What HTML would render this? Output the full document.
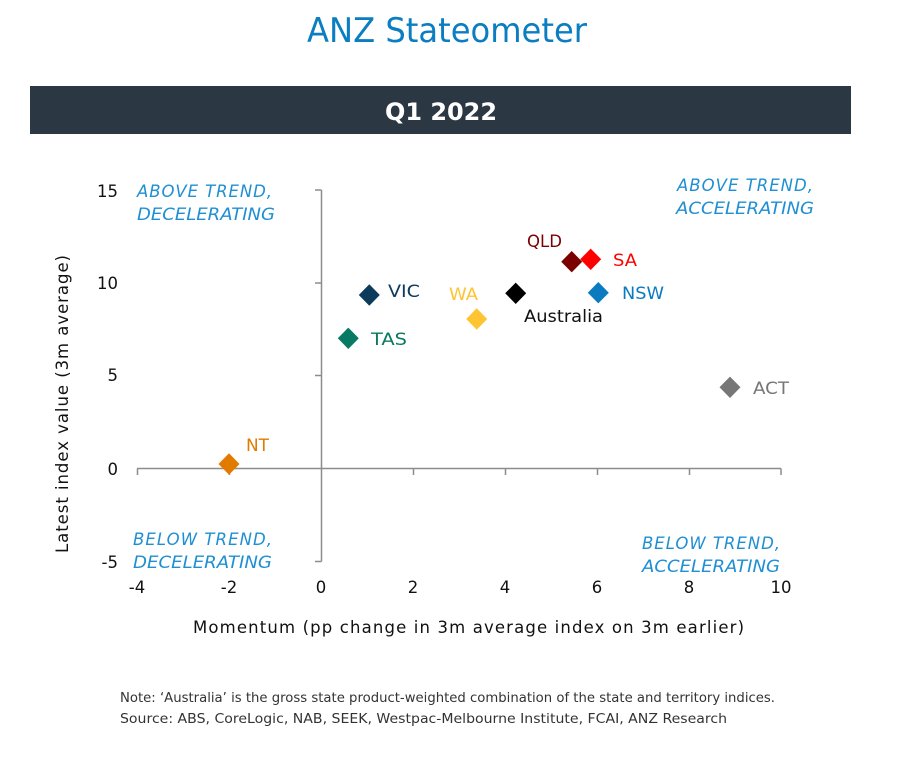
<!DOCTYPE html>
<html><head><meta charset="utf-8"><style>
html,body{margin:0;padding:0;background:#fff;}
svg{display:block;}
text{font-family:"DejaVu Sans","Liberation Sans",sans-serif;}
</style></head><body>
<svg width="908" height="766" viewBox="0 0 908 766" xmlns="http://www.w3.org/2000/svg">
<rect width="908" height="766" fill="#fff"/>
<text x="447" y="42" text-anchor="middle" font-family="Liberation Sans, sans-serif" font-size="34" fill="#0b7dc1" textLength="280" lengthAdjust="spacingAndGlyphs">ANZ Stateometer</text>
<rect x="30" y="86" width="821" height="48" fill="#2c3744"/>
<text x="441" y="120" text-anchor="middle" font-weight="bold" font-size="24" fill="#fff" textLength="112" lengthAdjust="spacingAndGlyphs">Q1 2022</text>

<!-- axes -->
<g stroke="#8c8c8c" stroke-width="1.5" fill="none">
<line x1="321.5" y1="190" x2="321.5" y2="561.5"/>
<line x1="137" y1="468.5" x2="781" y2="468.5"/>
<line x1="315" y1="190" x2="321.5" y2="190"/>
<line x1="315" y1="283" x2="321.5" y2="283"/>
<line x1="315" y1="375.5" x2="321.5" y2="375.5"/>
<line x1="315" y1="561.5" x2="321.5" y2="561.5"/>
<line x1="137.5" y1="468.5" x2="137.5" y2="475"/>
<line x1="229.5" y1="468.5" x2="229.5" y2="475"/>
<line x1="413.5" y1="468.5" x2="413.5" y2="475"/>
<line x1="505.5" y1="468.5" x2="505.5" y2="475"/>
<line x1="597.5" y1="468.5" x2="597.5" y2="475"/>
<line x1="689.5" y1="468.5" x2="689.5" y2="475"/>
<line x1="781" y1="468.5" x2="781" y2="475"/>
</g>

<!-- y tick labels -->
<g font-size="16.5" fill="#111" text-anchor="end">
<text x="118" y="197">15</text>
<text x="118" y="289">10</text>
<text x="118" y="381">5</text>
<text x="118" y="475">0</text>
<text x="118" y="568">-5</text>
</g>
<!-- x tick labels -->
<g font-size="16.5" fill="#111" text-anchor="middle">
<text x="137" y="593">-4</text>
<text x="229" y="593">-2</text>
<text x="321" y="593">0</text>
<text x="413" y="593">2</text>
<text x="505" y="593">4</text>
<text x="597" y="593">6</text>
<text x="689" y="593">8</text>
<text x="781" y="593">10</text>
</g>

<text x="193" y="633" font-size="16.5" fill="#111" textLength="551" lengthAdjust="spacing">Momentum  (pp change in 3m average index on 3m earlier)</text>
<text transform="translate(68,553) rotate(-90)" x="0" y="0" font-size="16.5" fill="#111" textLength="298" lengthAdjust="spacing">Latest index value (3m average)</text>

<!-- quadrant labels -->
<g font-size="16.5" font-style="italic" fill="#1f8fd3">
<text x="137" y="197" textLength="135" lengthAdjust="spacing">ABOVE  TREND,</text>
<text x="137" y="220" textLength="138" lengthAdjust="spacingAndGlyphs">DECELERATING</text>
<text x="677" y="191" textLength="136" lengthAdjust="spacing">ABOVE  TREND,</text>
<text x="676" y="214" textLength="138" lengthAdjust="spacingAndGlyphs">ACCELERATING</text>
<text x="133" y="545" textLength="139" lengthAdjust="spacing">BELOW  TREND,</text>
<text x="133" y="568" textLength="139" lengthAdjust="spacingAndGlyphs">DECELERATING</text>
<text x="642" y="549" textLength="138" lengthAdjust="spacing">BELOW  TREND,</text>
<text x="642" y="572" textLength="138" lengthAdjust="spacingAndGlyphs">ACCELERATING</text>
</g>

<!-- points -->
<g>
<polygon points="571.7,251 582.2,261.7 571.7,272.4 561.2,261.7" fill="#7b0000"/>
<polygon points="590.7,248.6 601.2,259.3 590.7,270 580.2,259.3" fill="#ff0000"/>
<polygon points="369.3,284.3 379.8,295 369.3,305.7 358.8,295" fill="#0d3b5c"/>
<polygon points="515.7,282.6 526.2,293.3 515.7,304 505.2,293.3" fill="#000000"/>
<polygon points="598.3,282 608.8,292.7 598.3,303.4 587.8,292.7" fill="#0a7bbf"/>
<polygon points="476.7,308.3 487.2,319 476.7,329.7 466.2,319" fill="#ffc433"/>
<polygon points="348.3,327.6 358.8,338.3 348.3,349 337.8,338.3" fill="#087a63"/>
<polygon points="730,376.6 740.5,387.3 730,398 719.5,387.3" fill="#777777"/>
<polygon points="229,453.3 239.5,464 229,474.7 218.5,464" fill="#e07b00"/>
</g>

<g font-size="17">
<text x="527" y="247" fill="#7b0000" textLength="35" lengthAdjust="spacingAndGlyphs">QLD</text>
<text x="613" y="266" fill="#ff0000" textLength="24" lengthAdjust="spacingAndGlyphs">SA</text>
<text x="388" y="297" fill="#0d3b5c" textLength="32" lengthAdjust="spacingAndGlyphs">VIC</text>
<text x="449" y="300" fill="#ffc433" textLength="29" lengthAdjust="spacingAndGlyphs">WA</text>
<text x="524" y="322" fill="#111" textLength="79" lengthAdjust="spacingAndGlyphs">Australia</text>
<text x="622" y="299" fill="#0a7bbf" textLength="42" lengthAdjust="spacingAndGlyphs">NSW</text>
<text x="371" y="345" fill="#087a63" textLength="36" lengthAdjust="spacingAndGlyphs">TAS</text>
<text x="753" y="394" fill="#777777" textLength="36" lengthAdjust="spacingAndGlyphs">ACT</text>
<text x="246" y="451" fill="#e07b00" textLength="23" lengthAdjust="spacingAndGlyphs">NT</text>
</g>

<g font-family="Liberation Sans, sans-serif" font-size="13.5" fill="#333">
<text x="120" y="702" textLength="655" lengthAdjust="spacingAndGlyphs">Note: ‘Australia’ is the gross state product-weighted combination of the state and territory indices.</text>
<text x="120" y="723" textLength="607" lengthAdjust="spacingAndGlyphs">Source: ABS, CoreLogic, NAB, SEEK, Westpac-Melbourne Institute, FCAI, ANZ Research</text>
</g>
</svg>
</body></html>
